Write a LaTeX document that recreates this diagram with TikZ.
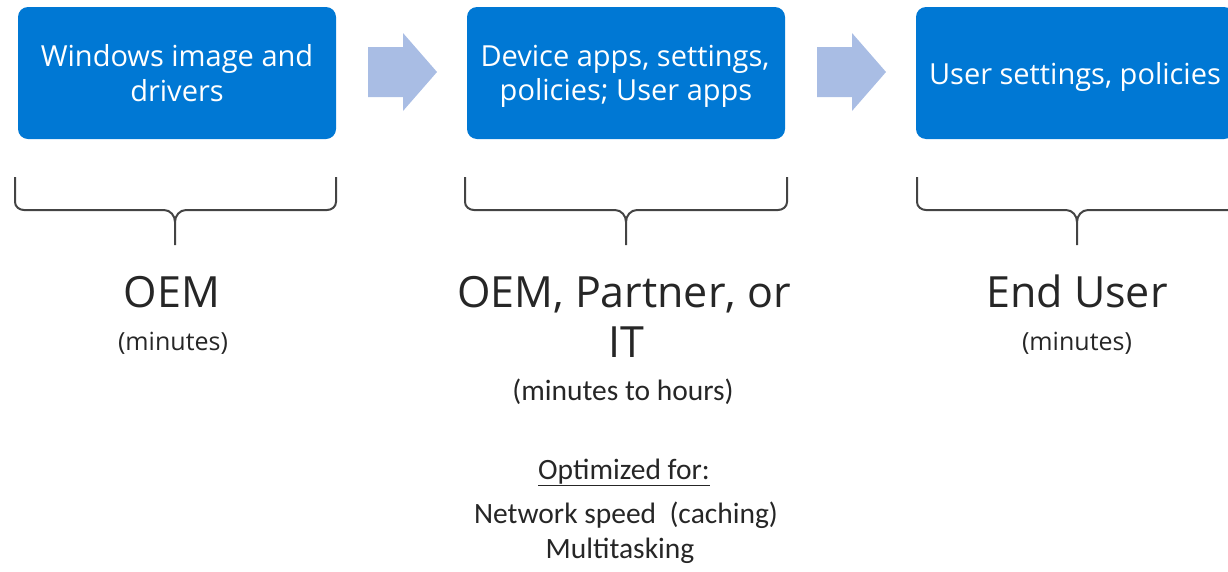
\documentclass[tikz,border=0pt]{standalone}
\usepackage{fontspec}
\setmainfont{Open Sans}
\newfontfamily\calfont{Carlito}
\definecolor{boxblue}{HTML}{0078D4}
\definecolor{arrowblue}{HTML}{A9BDE4}
\definecolor{bracegray}{HTML}{444444}
\definecolor{txtgray}{HTML}{262626}
\begin{document}
\begin{tikzpicture}[x=1pt,y=-1pt,
  stage/.style={fill=boxblue, rounded corners=10pt, minimum width=318pt, minimum height=132pt, inner sep=0pt},
  boxtxt/.style={text=white, font=\fontsize{29}{35}\selectfont, anchor=base, inner sep=0pt},
  big/.style={text=txtgray, font=\fontsize{43}{50}\selectfont, anchor=base, inner sep=0pt},
  small/.style={text=txtgray, font=\fontsize{25}{29}\selectfont, anchor=base, inner sep=0pt},
  cal/.style={text=txtgray, font=\calfont\fontsize{29.5}{33}\selectfont, anchor=base, inner sep=0pt},
  bracel/.style={draw=bracegray, line width=2pt, line join=round},
  blockarrow/.style={fill=arrowblue}]
\useasboundingbox (0,0) rectangle (1228,571);
\clip (0,0) rectangle (1228,571);
% boxes
\node[stage] (b1) at (177,73) {};
\node[stage] (b2) at (626,73) {};
\node[stage] (b3) at (1075,73) {};
\node[boxtxt] (t1a) at (177,66) {Windows image and};
\node[boxtxt] (t1b) at (177,101) {drivers};
\node[boxtxt] (t2a) at (625,66) {Device apps, settings,};
\node[boxtxt] (t2b) at (626,100) {policies; User apps};
\node[boxtxt] (t3a) at (1075,84) {User settings, policies};
% block arrows
\fill[blockarrow] (368,47) -- (403,47) -- (403,33) -- (437,72) -- (403,111) -- (403,97) -- (368,97) -- cycle;
\fill[blockarrow] (817,47) -- (852,47) -- (852,33) -- (886,72) -- (852,111) -- (852,97) -- (817,97) -- cycle;
% braces
\coordinate (c1) at (175,245);
\coordinate (c2) at (626,245);
\coordinate (c3) at (1077,245);
\draw[bracel] (15,177) -- (15,202) to[out=-90,in=180] (24,210) -- (164,210) to[out=0,in=90] (175,222) -- (c1);
\draw[bracel] (336,177) -- (336,202) to[out=-90,in=0] (327,210) -- (186,210) to[out=180,in=90] (175,222);
\draw[bracel] (465,177) -- (465,202) to[out=-90,in=180] (474,210) -- (615,210) to[out=0,in=90] (626,222) -- (c2);
\draw[bracel] (787,177) -- (787,202) to[out=-90,in=0] (778,210) -- (637,210) to[out=180,in=90] (626,222);
\draw[bracel] (917,177) -- (917,202) to[out=-90,in=180] (926,210) -- (1066,210) to[out=0,in=90] (1077,222) -- (c3);
\draw[bracel] (1237,177) -- (1237,202) to[out=-90,in=0] (1228,210) -- (1088,210) to[out=180,in=90] (1077,222);
% labels
\node[big] (l1) at (172,307) {OEM};
\node[small] (m1) at (173,350) {(minutes)};
\node[big] (l2a) at (624,307) {OEM, Partner, or};
\node[big] (l2b) at (626,357) {IT};
\node[cal] (m2) at (623,400) {(minutes to hours)};
\node[cal] (o1) at (624,479) {\underline{Optimized for:}};
\node[cal] (o2) at (626,523) {Network speed\ \ (caching)};
\node[cal] (o3) at (620,558) {Multitasking};
\node[big] (l3) at (1077,307) {End User};
\node[small] (m3) at (1077,350) {(minutes)};
\end{tikzpicture}
\end{document}
